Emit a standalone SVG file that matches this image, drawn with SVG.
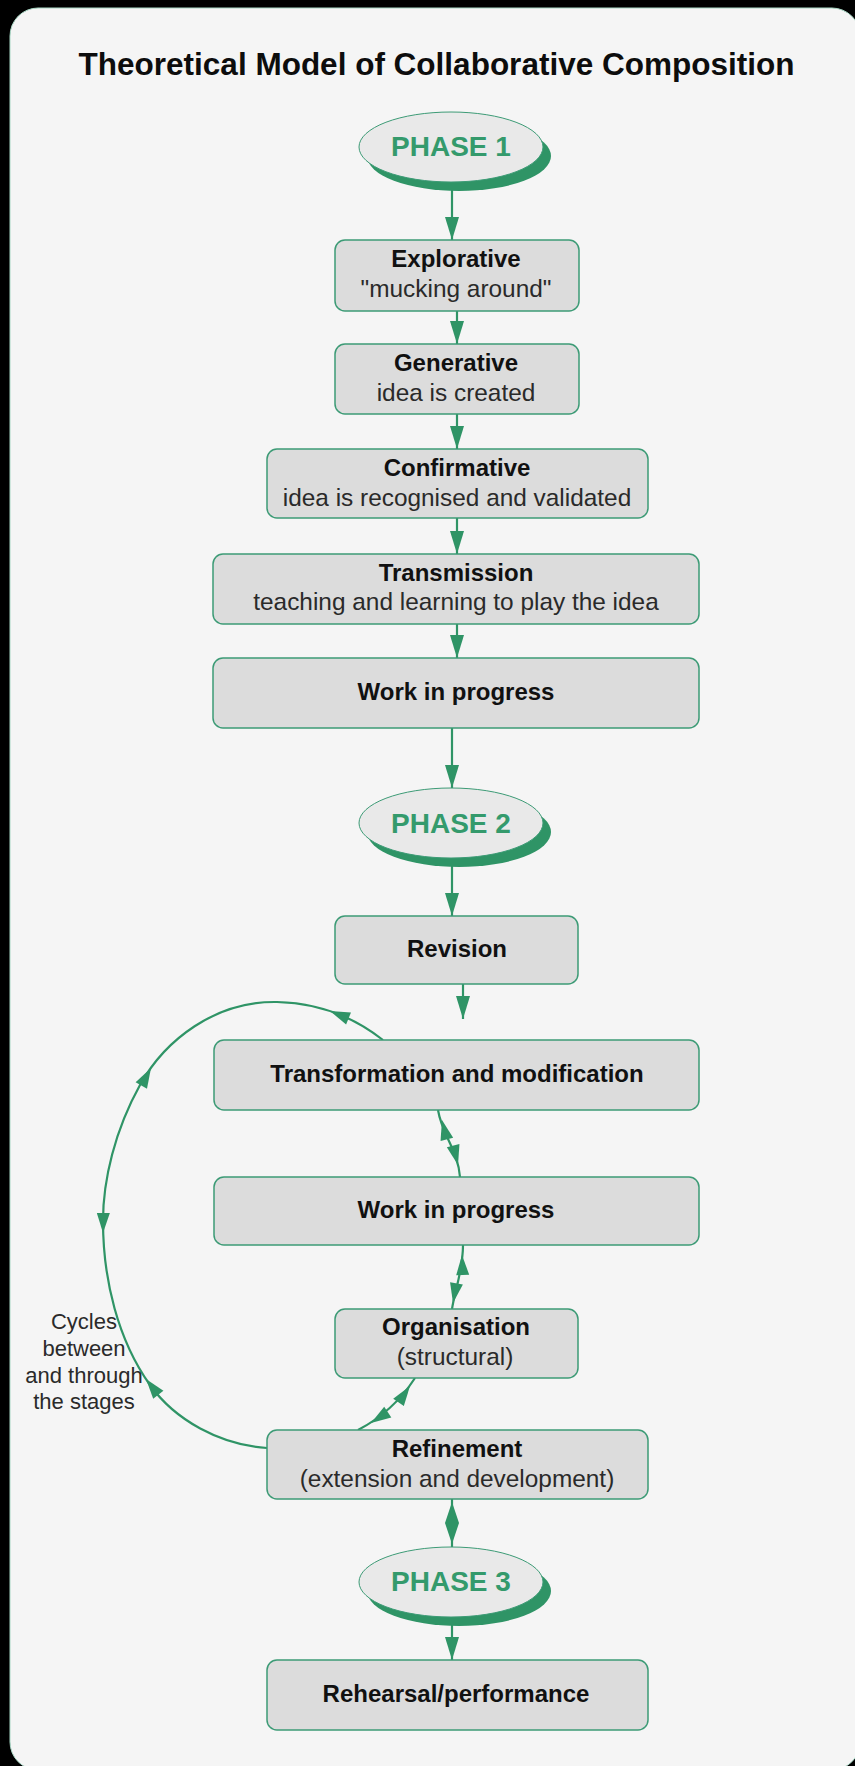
<svg xmlns="http://www.w3.org/2000/svg" xmlns:xlink="http://www.w3.org/1999/xlink" width="855" height="1766" viewBox="0 0 855 1766">
  <style>
    .box { fill: #dcdcdc; stroke: #3d9b76; stroke-width: 1.5; }
    .oval { fill: #e9e9e9; stroke: #3d9b76; stroke-width: 1; }
    .oval-shadow { fill: #2f9466; }
    .wire { fill: none; stroke: #2f9466; stroke-width: 2.2; }
    .head { fill: #2f9466; }
    text { font-family: "Liberation Sans", Arial, Helvetica, sans-serif; text-anchor: middle; }
    .title { font-size: 31.5px; font-weight: bold; fill: #0d0d0d; }
    .lbl { font-size: 24px; font-weight: bold; fill: #111111; }
    .sub { font-size: 24.4px; fill: #2a2a2a; }
    .phase { font-size: 28px; font-weight: bold; fill: #349a6c; }
    .note { font-size: 22px; fill: #2a2a2a; }
  </style>
  <defs>
    <marker id="arrow" markerUnits="userSpaceOnUse" markerWidth="24" markerHeight="16" viewBox="0 0 24 16" refX="23" refY="8" orient="auto">
      <path d="M0,1 L23,8 L0,15 Z" fill="#2f9466"/>
    </marker>
    <!-- small arrowhead, tip at origin pointing along +x -->
    <path id="tip" d="M0,0 L-20,-6.5 L-20,6.5 Z"/>
    <path id="tipBig" d="M0,0 L-21,-7 L-21,7 Z"/>
  </defs>

  <!-- frame -->
  <rect x="0" y="0" width="855" height="1766" fill="#000000"/>
  <rect x="10" y="8" width="850" height="1762" rx="28" fill="#f5f5f5" stroke="#a9d8c6" stroke-width="1"/>

  <text class="title" x="436.5" y="75">Theoretical Model of Collaborative Composition</text>

  <!-- connectors -->
  <g id="connectors">
    <line class="wire" x1="452" y1="183" x2="452" y2="240" marker-end="url(#arrow)"/>
    <line class="wire" x1="457" y1="311" x2="457" y2="344" marker-end="url(#arrow)"/>
    <line class="wire" x1="457" y1="414" x2="457" y2="449" marker-end="url(#arrow)"/>
    <line class="wire" x1="457" y1="518" x2="457" y2="554" marker-end="url(#arrow)"/>
    <line class="wire" x1="457" y1="624" x2="457" y2="658" marker-end="url(#arrow)"/>
    <line class="wire" x1="452" y1="728" x2="452" y2="788" marker-end="url(#arrow)"/>
    <line class="wire" x1="452" y1="859" x2="452" y2="916" marker-end="url(#arrow)"/>
    <line class="wire" x1="463" y1="984" x2="463" y2="1019" marker-end="url(#arrow)"/>
    <line class="wire" x1="452" y1="1619" x2="452" y2="1660" marker-end="url(#arrow)"/>

    <!-- Transformation <-> Work in progress -->
    <path class="wire" d="M438,1110 C442,1135 458,1150 460,1177"/>
    <use xlink:href="#tip" class="head" transform="translate(442,1120) rotate(-104)"/>
    <use xlink:href="#tip" class="head" transform="translate(458,1165) rotate(76)"/>

    <!-- Work in progress <-> Organisation -->
    <path class="wire" d="M463,1245 C463,1270 455,1290 452,1309"/>
    <use xlink:href="#tip" class="head" transform="translate(462,1255) rotate(-92)"/>
    <use xlink:href="#tip" class="head" transform="translate(453,1303) rotate(100)"/>

    <!-- Organisation <-> Refinement -->
    <path class="wire" d="M415,1378 C402,1398 385,1416 358,1430"/>
    <use xlink:href="#tip" class="head" transform="translate(410,1386) rotate(-55)"/>
    <use xlink:href="#tip" class="head" transform="translate(371,1423) rotate(147)"/>

    <!-- Refinement <-> Phase 3 -->
    <line class="wire" x1="452" y1="1499" x2="452" y2="1547"/>
    <use xlink:href="#tipBig" class="head" transform="translate(452,1502) rotate(-90)"/>
    <use xlink:href="#tipBig" class="head" transform="translate(452,1544) rotate(90)"/>

    <!-- cycle loop on the left -->
    <path class="wire" d="M383,1040 C360,1022 325,1003 277,1002 C215,1001 165,1040 140,1085 C115,1130 103,1180 103,1221 C103,1280 118,1340 150,1385 C175,1420 220,1445 267,1448"/>
    <use xlink:href="#tip" class="head" transform="translate(330,1011) rotate(202)"/>
    <use xlink:href="#tip" class="head" transform="translate(151,1068) rotate(-61)"/>
    <use xlink:href="#tip" class="head" transform="translate(103,1233) rotate(91)"/>
    <use xlink:href="#tip" class="head" transform="translate(146,1379) rotate(-128)"/>
  </g>

  <!-- phase 1 -->
  <g id="phase1">
    <ellipse class="oval-shadow" cx="459" cy="156" rx="92" ry="35"/>
    <ellipse class="oval" cx="451" cy="147" rx="92" ry="35"/>
    <text class="phase" x="451" y="156">PHASE 1</text>
  </g>

  <g id="explorative">
    <rect class="box" x="335" y="240" width="244" height="71" rx="10"/>
    <text class="lbl" x="456" y="267">Explorative</text>
    <text class="sub" x="456" y="297">"mucking around"</text>
  </g>

  <g id="generative">
    <rect class="box" x="335" y="344" width="244" height="70" rx="10"/>
    <text class="lbl" x="456" y="371">Generative</text>
    <text class="sub" x="456" y="401">idea is created</text>
  </g>

  <g id="confirmative">
    <rect class="box" x="267" y="449" width="381" height="69" rx="10"/>
    <text class="lbl" x="457" y="476">Confirmative</text>
    <text class="sub" x="457" y="506">idea is recognised and validated</text>
  </g>

  <g id="transmission">
    <rect class="box" x="213" y="554" width="486" height="70" rx="10"/>
    <text class="lbl" x="456" y="581">Transmission</text>
    <text class="sub" x="456" y="610">teaching and learning to play the idea</text>
  </g>

  <g id="work-in-progress-1">
    <rect class="box" x="213" y="658" width="486" height="70" rx="10"/>
    <text class="lbl" x="456" y="700">Work in progress</text>
  </g>

  <!-- phase 2 -->
  <g id="phase2">
    <ellipse class="oval-shadow" cx="459" cy="832" rx="92" ry="35"/>
    <ellipse class="oval" cx="451" cy="823" rx="92" ry="35"/>
    <text class="phase" x="451" y="833">PHASE 2</text>
  </g>

  <g id="revision">
    <rect class="box" x="335" y="916" width="243" height="68" rx="10"/>
    <text class="lbl" x="457" y="957">Revision</text>
  </g>

  <g id="transformation">
    <rect class="box" x="214" y="1040" width="485" height="70" rx="10"/>
    <text class="lbl" x="457" y="1082">Transformation and modification</text>
  </g>

  <g id="work-in-progress-2">
    <rect class="box" x="214" y="1177" width="485" height="68" rx="10"/>
    <text class="lbl" x="456" y="1218">Work in progress</text>
  </g>

  <g id="organisation">
    <rect class="box" x="335" y="1309" width="243" height="69" rx="10"/>
    <text class="lbl" x="456" y="1335">Organisation</text>
    <text class="sub" x="455" y="1365">(structural)</text>
  </g>

  <g id="refinement">
    <rect class="box" x="267" y="1430" width="381" height="69" rx="10"/>
    <text class="lbl" x="457" y="1457">Refinement</text>
    <text class="sub" x="457" y="1487">(extension and development)</text>
  </g>

  <!-- phase 3 -->
  <g id="phase3">
    <ellipse class="oval-shadow" cx="459" cy="1591" rx="92" ry="35"/>
    <ellipse class="oval" cx="451" cy="1582" rx="92" ry="35"/>
    <text class="phase" x="451" y="1591">PHASE 3</text>
  </g>

  <g id="rehearsal">
    <rect class="box" x="267" y="1660" width="381" height="70" rx="10"/>
    <text class="lbl" x="456" y="1702">Rehearsal/performance</text>
  </g>

  <g id="cycle-note">
    <text class="note" x="84" y="1329">Cycles</text>
    <text class="note" x="84" y="1356">between</text>
    <text class="note" x="84" y="1383">and through</text>
    <text class="note" x="84" y="1409">the stages</text>
  </g>
</svg>
